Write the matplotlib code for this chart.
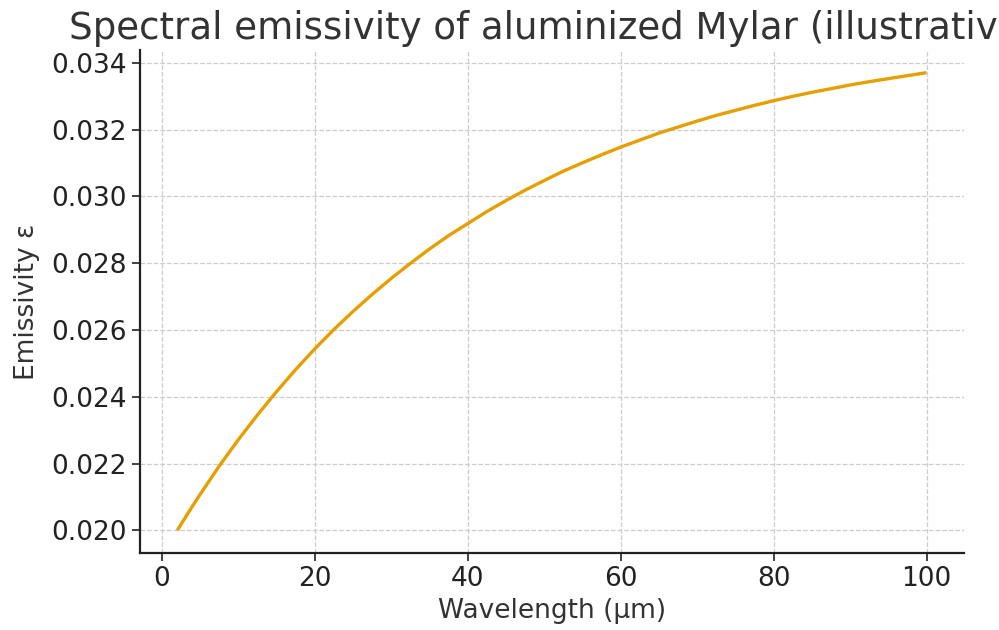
import matplotlib
matplotlib.use("Agg")
from matplotlib import pyplot as plt

# values
wavelength = [2, 3.5, 5, 7.5, 10, 12.5, 15, 17.5, 20, 22.5, 25, 27.5, 30,
              32.5, 35, 37.5, 40, 42.5, 45, 47.5, 50, 52.5, 55, 57.5, 60,
              62.5, 65, 67.5, 70, 72.5, 75, 77.5, 80, 82.5, 85, 87.5, 90,
              92.5, 95, 97.5, 100]
emissivity = [0.02000, 0.02055, 0.02108, 0.02193, 0.02272, 0.02346, 0.02416,
              0.02482, 0.02544, 0.02602, 0.02656, 0.02707, 0.02755, 0.02800,
              0.02843, 0.02883, 0.02919, 0.02955, 0.02988, 0.03019, 0.03048,
              0.03076, 0.03101, 0.03125, 0.03148, 0.03169, 0.03190, 0.03208,
              0.03226, 0.03243, 0.03258, 0.03273, 0.03287, 0.03300, 0.03312,
              0.03323, 0.03334, 0.03344, 0.03353, 0.03362, 0.03371]
y_ticks = [0.020, 0.022, 0.024, 0.026, 0.028, 0.030, 0.032, 0.034]
x_ticks = [0, 20, 40, 60, 80, 100]

text_color = "#333333"
plt.rcParams["font.family"] = "DejaVu Sans"

fig = plt.figure(figsize=(9.99, 6.3), dpi=100)
ax = fig.add_axes([0.140, 0.122, 0.825, 0.799])

ax.plot(wavelength, emissivity, color="#E69F00", linewidth=2.4,
        solid_capstyle="butt", solid_joinstyle="round")

ax.set_xticks(x_ticks)
ax.set_yticks(y_ticks)
ax.set_yticklabels([f"{v:.3f}" for v in y_ticks])
ax.tick_params(axis="both", labelsize=19, colors="#222222", length=6, width=1.2)

ax.grid(True, linestyle="--", color="#cccccc", linewidth=0.9)
ax.set_axisbelow(True)
for side in ["top", "right"]:
    ax.spines[side].set_visible(False)
for side in ["left", "bottom"]:
    ax.spines[side].set_color("#222222")
    ax.spines[side].set_linewidth(1.6)

ax.set_xlabel("Wavelength (µm)", fontsize=19, color=text_color, labelpad=4)
ax.set_ylabel("Emissivity ε", fontsize=19, color=text_color, labelpad=8)
ax.set_title("Spectral emissivity of aluminized Mylar (illustrative)",
             fontsize=26.75, color=text_color, pad=8)

fig.savefig("out.png", dpi=100)
